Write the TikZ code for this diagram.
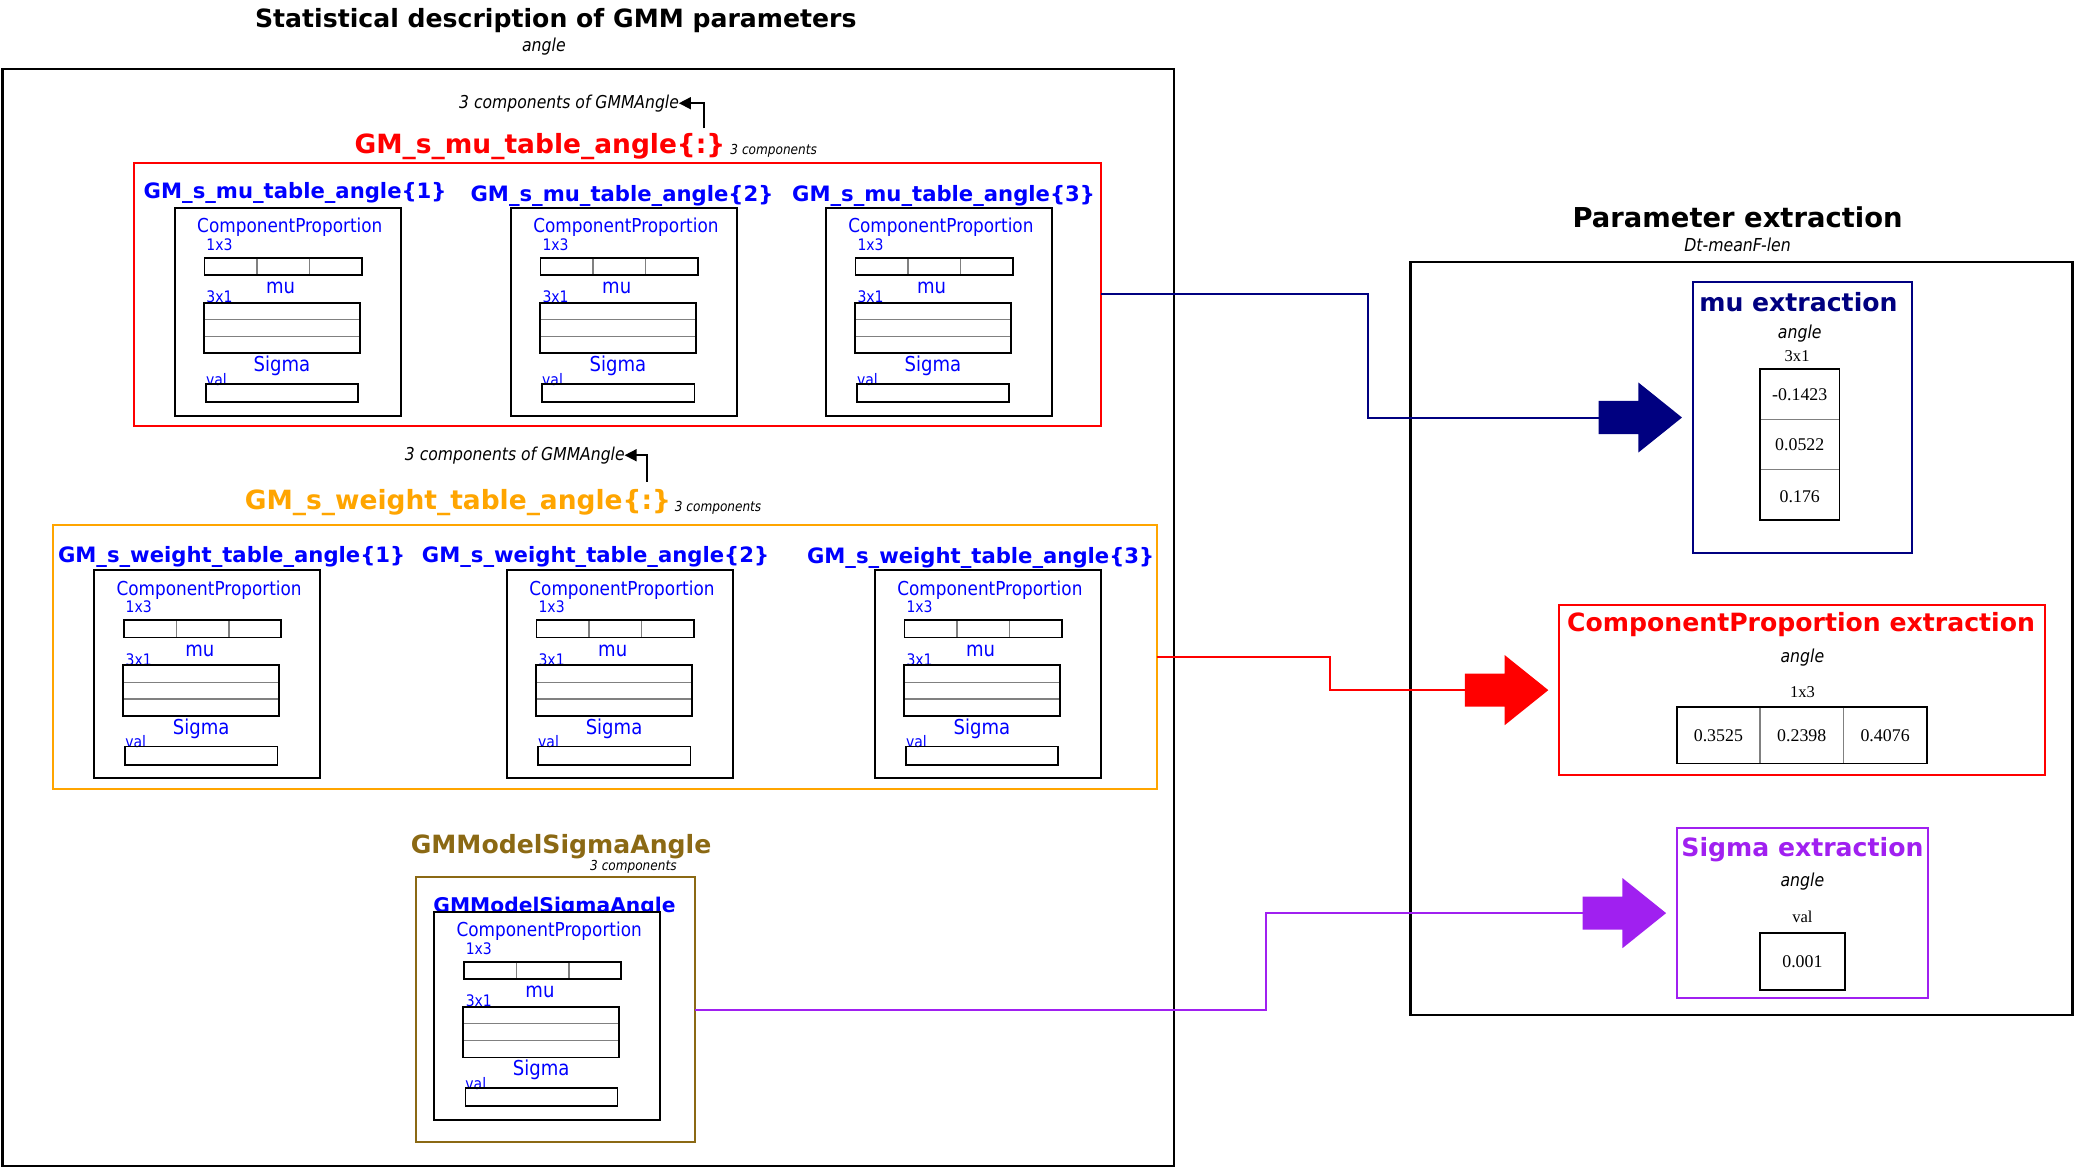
\documentclass[tikz,border=0pt]{standalone}
\usepackage{fontspec}
\setmainfont{DejaVu Sans}[FakeStretch=0.88]
\newfontfamily\bfam{DejaVu Sans}
\newfontfamily\serf{Liberation Serif}
\usetikzlibrary{calc,arrows.meta}

\definecolor{mblue}{RGB}{0,0,255}
\definecolor{mred}{RGB}{255,0,0}
\definecolor{morange}{RGB}{255,165,0}
\definecolor{mnavy}{RGB}{0,0,128}
\definecolor{mpurple}{RGB}{160,32,240}
\definecolor{molive}{RGB}{139,105,20}
\definecolor{mgray}{RGB}{128,128,128}

\tikzset{
  every node/.style={inner sep=0pt, outer sep=0pt},
  bigbox/.style={draw=black, line width=1.9pt, anchor=north west},
  grpbox/.style={line width=1.5pt, anchor=north west},
  inbox/.style={draw=black, line width=1.5pt, fill=white, anchor=north west, minimum width=171pt, minimum height=157pt},
  tbl/.style={draw=black, line width=1.3pt, anchor=north west},
  divider/.style={draw=mgray, line width=1pt},
  maintitle/.style={font=\bfam\bfseries\fontsize{19}{22}\selectfont},
  subit/.style={font=\itshape\fontsize{13.5}{16}\selectfont},
  grptitle/.style={font=\bfam\bfseries\fontsize{20}{24}\selectfont},
  smallit/.style={font=\itshape\fontsize{10.4}{12}\selectfont},
  noteit/.style={font=\itshape\fontsize{13.4}{15}\selectfont},
  hdr/.style={font=\bfam\bfseries\fontsize{16}{19}\selectfont, text=mblue},
  cptxt/.style={font=\fontsize{14.5}{17}\selectfont, text=mblue},
  dimtxt/.style={font=\fontsize{12}{13}\selectfont, text=mblue, anchor=west},
  fldtxt/.style={font=\fontsize{15.5}{18}\selectfont, text=mblue},
  extitle/.style={font=\bfam\bfseries\fontsize{19}{22}\selectfont},
  valtxt/.style={font=\serf\fontsize{13.5}{15}\selectfont},
  rdim/.style={font=\serf\fontsize{12.5}{15}\selectfont},
  conn/.style={line width=1.5pt},
  notearrow/.style={line width=1.3pt, -{Triangle[length=9pt,width=9pt]}},
  pics/gmmcomp/.style={code={
    \node[inbox] (-frame) at (0,0) {};
    \node[cptxt] (-cp) at (87,15) {ComponentProportion};
    \node[dimtxt] (-d1) at (24,27.6) {1x3};
    \node[tbl, minimum width=119pt, minimum height=13pt] (-t1) at (22.5,37.7) {};
    \draw[divider] (62.2,38.4) -- (62.2,50.1);
    \draw[divider] (102,38.4) -- (102,50.1);
    \node[fldtxt] (-mu) at (80,60.5) {mu};
    \node[dimtxt] (-d2) at (24,67.4) {3x1};
    \node[tbl, minimum width=118pt, minimum height=38.3pt] (-t2) at (22,71.7) {};
    \draw[divider] (22.7,84.5) -- (139.3,84.5);
    \draw[divider] (22.7,97.3) -- (139.3,97.3);
    \node[fldtxt] (-sg) at (81,119.5) {Sigma};
    \node[dimtxt] (-d3) at (23.7,129.5) {val};
    \node[tbl, minimum width=115pt, minimum height=14pt] (-t3) at (23.7,133) {};
  }}
}

\newcommand\blockarrow[2]{%
  \fill[#1] ($(#2.west)+(-8,0)$) -- ++(-33,-26.5) -- ++(0,14) -- ++(-30,0)
    -- ++(0,25) -- ++(30,0) -- ++(0,14) -- cycle;}

\begin{document}
\begin{tikzpicture}[x=1pt,y=-1pt]
\useasboundingbox (0,0) rectangle (1568,883);

% ---------- left panel ----------
\node[maintitle] (ltitle) at (420,15.5) {Statistical description of GMM parameters};
\node[subit] (lsub) at (411,35) {angle};
\node[bigbox, minimum width=885pt, minimum height=829pt] (left) at (2,52) {};

% mu table group
\node[noteit] (note1) at (430,78) {3 components of GMMAngle};
\coordinate (a1) at (532,97);
\draw[notearrow] (a1) |- (note1.east);
\node[grptitle, text=mred] (mutitle) at (408,110.5) {GM\_s\_mu\_table\_angle\{:\}};
\node[smallit, anchor=west] (mucnt) at (552,114) {3 components};
\node[grpbox, draw=mred, minimum width=731pt, minimum height=199pt] (mut) at (101,123) {};
\node[hdr] (muh1) at (223,146) {GM\_s\_mu\_table\_angle\{1\}};
\node[hdr] (muh2) at (470,148) {GM\_s\_mu\_table\_angle\{2\}};
\node[hdr] (muh3) at (713,148) {GM\_s\_mu\_table\_angle\{3\}};
\pic (mu1) at (132,157) {gmmcomp};
\pic (mu2) at (386,157) {gmmcomp};
\pic (mu3) at (624,157) {gmmcomp};

% weight table group
\node[noteit] (note2) at (389,344) {3 components of GMMAngle};
\coordinate (a2) at (489,364);
\draw[notearrow] (a2) |- (note2.east);
\node[grptitle, text=morange] (wtitle) at (346,379.5) {GM\_s\_weight\_table\_angle\{:\}};
\node[smallit, anchor=west] (wcnt) at (510,384) {3 components};
\node[grpbox, draw=morange, minimum width=834pt, minimum height=199pt] (wt) at (40,397) {};
\node[hdr] (wh1) at (175,420.5) {GM\_s\_weight\_table\_angle\{1\}};
\node[hdr] (wh2) at (450,420.5) {GM\_s\_weight\_table\_angle\{2\}};
\node[hdr] (wh3) at (741,421.5) {GM\_s\_weight\_table\_angle\{3\}};
\pic (w1) at (71,431) {gmmcomp};
\pic (w2) at (383,431) {gmmcomp};
\pic (w3) at (661,431) {gmmcomp};

% sigma model
\node[font=\bfam\bfseries\fontsize{19}{22}\selectfont, text=molive] (sgtitle) at (424,640) {GMModelSigmaAngle};
\node[smallit, anchor=west] (sgcnt) at (446,655) {3 components};
\node[grpbox, draw=molive, minimum width=211pt, minimum height=200pt] (sgm) at (314,663) {};
\node[font=\bfam\bfseries\fontsize{15.3}{18}\selectfont, text=mblue] (sgh) at (419,685) {GMModelSigmaAngle};
\pic (s1) at (328,689) {gmmcomp};

% ---------- right panel ----------
\node[maintitle, font=\bfam\bfseries\fontsize{20.7}{24}\selectfont] (rtitle) at (1313,164) {Parameter extraction};
\node[subit] (rsub) at (1313,185) {Dt-meanF-len};
\node[bigbox, minimum width=500pt, minimum height=569pt] (right) at (1066,198) {};

% mu extraction
\node[grpbox, draw=mnavy, minimum width=166pt, minimum height=205pt] (mux) at (1279,213) {};
\node[extitle, text=mnavy] (muxt) at (1359,228) {mu extraction};
\node[subit] (muxa) at (1360,252) {angle};
\node[rdim] (muxd) at (1358,269) {3x1};
\node[tbl, minimum width=60pt, minimum height=114pt] (muxtab) at (1330,279) {};
\draw[divider] (1330.7,317) -- (1389.3,317);
\draw[divider] (1330.7,355) -- (1389.3,355);
\node[valtxt] (v1) at (1360,298) {-0.1423};
\node[valtxt] (v2) at (1360,336) {0.0522};
\node[valtxt] (v3) at (1360,375) {0.176};

% ComponentProportion extraction
\node[grpbox, draw=mred, minimum width=367pt, minimum height=129pt] (cpx) at (1178,457) {};
\node[extitle, text=mred] (cpxt) at (1361,472) {ComponentProportion extraction};
\node[subit] (cpxa) at (1362,497) {angle};
\node[rdim] (cpxd) at (1362,523) {1x3};
\node[tbl, minimum width=189pt, minimum height=43pt] (cpxtab) at (1267,534) {};
\draw[divider] (1330,534.7) -- (1330,576.3);
\draw[divider] (1393,534.7) -- (1393,576.3);
\node[valtxt] (c1) at (1298.5,556) {0.3525};
\node[valtxt] (c2) at (1361.5,556) {0.2398};
\node[valtxt] (c3) at (1424.5,556) {0.4076};

% Sigma extraction
\node[grpbox, draw=mpurple, minimum width=190pt, minimum height=128pt] (sgx) at (1267,626) {};
\node[extitle, text=mpurple] (sgxt) at (1362,642) {Sigma extraction};
\node[subit] (sgxa) at (1362,666) {angle};
\node[rdim] (sgxd) at (1362,693) {val};
\node[tbl, minimum width=64pt, minimum height=43pt] (sgxtab) at (1330,705) {};
\node[valtxt] (s0) at (1362,727) {0.001};

% ---------- connectors ----------
\draw[conn, mnavy] (mut.east) -| ($(mux.west)+(-245,0)$) -- ($(mux.west)+(-60,0)$);
\blockarrow{mnavy}{mux}
\draw[conn, mred] (wt.east) -| ($(cpx.west)+(-173,0)$) -- ($(cpx.west)+(-60,0)$);
\blockarrow{mred}{cpx}
\draw[conn, mpurple] (sgm.east) -| ($(sgx.west)+(-310,0)$) -- ($(sgx.west)+(-60,0)$);
\blockarrow{mpurple}{sgx}
\end{tikzpicture}
\end{document}
